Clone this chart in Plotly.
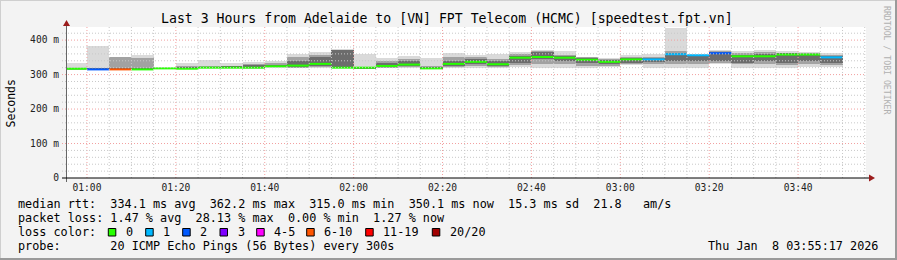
import plotly.graph_objects as go
from datetime import datetime, timedelta

# ---------------- data ----------------
DAY = "2026-01-08"
interval_start = ["00:55", "01:00", "01:05", "01:10", "01:15", "01:20", "01:25", "01:30",
                  "01:35", "01:40", "01:45", "01:50", "01:55", "02:00", "02:05", "02:10",
                  "02:15", "02:20", "02:25", "02:30", "02:35", "02:40", "02:45", "02:50",
                  "02:55", "03:00", "03:05", "03:10", "03:15", "03:20", "03:25", "03:30",
                  "03:35", "03:40", "03:45"]
STEP_S = 300  # probe interval (s)

median_ms = [317, 315, 315, 315, 318, 317, 320, 320, 320, 324, 326, 331, 320, 320, 325, 329,
             318, 331, 337, 330, 349, 351, 349, 343, 337, 344, 344, 359, 356, 362, 353, 353,
             358, 358, 350]
lost_pings = [0, 2, 6, 0, 0, 0, 0, 0, 0, 0, 0, 0, 0, 0, 0, 0,
              0, 0, 0, 0, 0, 0, 0, 0, 0, 0, 1, 1, 1, 2, 0, 0,
              0, 0, 1]
# smoke (ping distribution) per interval, ms
smoke_max = [335, 383, 352, 358, 318, 335, 343, 333, 337, 340, 360, 366, 373, 359, 347, 354,
             347, 364, 356, 359, 366, 371, 369, 352, 349, 356, 359, 436, 361, 371, 368, 371,
             368, 366, 362]
smoke_hi = [318, 320, 352, 348, 318, 325, 325, 325, 332, 333, 350, 358, 371, 322, 338, 345,
            325, 352, 350, 345, 360, 368, 358, 350, 345, 350, 352, 368, 358, 368, 362, 365,
            364, 363, 358]
smoke_q3 = [317, 317, 317, 318, 318, 320, 321, 322, 328, 328, 338, 350, 371, 321, 333, 340,
            320, 340, 345, 338, 355, 365, 354, 347, 341, 347, 348, 364, 357, 366, 358, 360,
            362, 361, 354]
smoke_q1 = [317, 315, 315, 315, 318, 317, 320, 320, 319, 322, 322, 324, 320, 319, 322, 324,
            317, 326, 330, 325, 335, 345, 340, 333, 330, 335, 336, 340, 338, 340, 335, 338,
            335, 340, 335]
smoke_lo = [316, 315, 315, 315, 317, 317, 319, 319, 318, 321, 320, 321, 319, 319, 320, 321,
            316, 322, 325, 322, 328, 330, 330, 325, 325, 330, 330, 332, 332, 335, 330, 330,
            328, 330, 328]
smoke_min = [316, 315, 315, 314, 317, 316, 319, 319, 317, 320, 318, 319, 319, 318, 318, 318,
             315, 319, 320, 319, 322, 320, 320, 320, 321, 328, 318, 318, 318, 331, 318, 318,
             320, 323, 322]

loss_labels = ["0", "1", "2", "3", "4-5", "6-10", "11-19", "20/20"]
loss_colors = ["#26ff00", "#00b8ff", "#0059ff", "#7e00ff", "#ff00ff", "#ff5500", "#ff0000", "#a10000"]

stats_line1 = "median rtt:  334.1 ms avg  362.2 ms max  315.0 ms min  350.1 ms now  15.3 ms sd  21.8   am/s"
stats_line2 = "packet loss: 1.47 % avg  28.13 % max  0.00 % min  1.27 % now"
probe_line = "probe:       20 ICMP Echo Pings (56 Bytes) every 300s"
stamp = "Thu Jan  8 03:55:17 2026"
title = "Last 3 Hours from Adelaide to [VN] FPT Telecom (HCMC) [speedtest.fpt.vn]"

# ---------------- geometry ----------------
W, H = 897, 260
PL, PR, PT, PB = 66, 866, 27, 178
MONO = "DejaVu Sans Mono"


def px(x):
    return (x - PL) / (PR - PL)


def py(y):
    return (PB - y) / (PB - PT)


def nb(s):
    return s.replace(" ", "\u00a0")


def bucket(n):
    if n <= 3:
        return n
    if n <= 5:
        return 4
    if n <= 10:
        return 5
    if n <= 19:
        return 6
    return 7


starts = [datetime.fromisoformat(f"{DAY} {t}:00") for t in interval_start]
step = timedelta(seconds=STEP_S)
centers = [s + step / 2 for s in starts]

fig = go.Figure()

bands = [(smoke_min, smoke_max, "#dadada"), (smoke_lo, smoke_hi, "#a2a2a2"), (smoke_q1, smoke_q3, "#6c6c6c")]
for lo, hi, col in bands:
    fig.add_trace(go.Bar(x=centers, y=[h - l for l, h in zip(lo, hi)], base=lo,
                         width=STEP_S * 1000, marker=dict(color=col, line=dict(width=0)),
                         hoverinfo="skip", showlegend=False))

for b, col in enumerate(loss_colors):
    xs, ys = [], []
    for s, m, n in zip(starts, median_ms, lost_pings):
        if bucket(n) == b:
            xs += [s, s + step, None]
            ys += [m, m, None]
    if xs:
        fig.add_trace(go.Scatter(x=xs, y=ys, mode="lines", line=dict(color=col, width=2),
                                 hoverinfo="skip", showlegend=False))

x0 = datetime.fromisoformat(f"{DAY} 00:55:17")
x1 = datetime.fromisoformat(f"{DAY} 03:55:17")
YMAX = 438

shapes = []
# grid (rrdtool draws it over the graph)
t = datetime.fromisoformat(f"{DAY} 01:00:00")
while t <= x1:
    major = t.minute % 20 == 0
    shapes.append(dict(type="line", xref="x", yref="paper", x0=t, x1=t, y0=0, y1=1, layer="above",
                       line=dict(color="#f2a0a0" if major else "#c8c8c8", width=1, dash="1px,2px")))
    t += timedelta(minutes=5)
for v in range(20, YMAX, 20):
    major = v % 100 == 0
    shapes.append(dict(type="line", xref="paper", yref="y", x0=px(62), x1=1, y0=v, y1=v, layer="above",
                       line=dict(color="#f2a0a0" if major else "#c8c8c8", width=1, dash="1px,2px")))
# axes with arrows
shapes.append(dict(type="line", xref="paper", yref="paper", x0=px(66.5), x1=px(66.5), y0=py(182), y1=py(25),
                   layer="above", line=dict(color="#666666", width=1)))
shapes.append(dict(type="line", xref="paper", yref="paper", x0=px(62), x1=px(870), y0=py(178), y1=py(178),
                   layer="above", line=dict(color="#000000", width=1)))
shapes.append(dict(type="path", xref="paper", yref="paper", layer="above",
                   path=f"M {px(66.5)} {py(20)} L {px(63)} {py(26)} L {px(70)} {py(26)} Z",
                   fillcolor="#9b1c1c", line=dict(width=0)))
shapes.append(dict(type="path", xref="paper", yref="paper", layer="above",
                   path=f"M {px(875)} {py(178)} L {px(869)} {py(174.5)} L {px(869)} {py(181.5)} Z",
                   fillcolor="#9b1c1c", line=dict(width=0)))
# page border
shapes.append(dict(type="line", xref="paper", yref="paper", x0=px(0), x1=px(W), y0=py(0.5), y1=py(0.5),
                   line=dict(color="#cfcfcf", width=1)))
shapes.append(dict(type="line", xref="paper", yref="paper", x0=px(0.5), x1=px(0.5), y0=py(0), y1=py(H),
                   line=dict(color="#cfcfcf", width=1)))
shapes.append(dict(type="line", xref="paper", yref="paper", x0=px(0), x1=px(W), y0=py(H - 1), y1=py(H - 1),
                   line=dict(color="#9a9a9a", width=2)))
shapes.append(dict(type="line", xref="paper", yref="paper", x0=px(W - 1), x1=px(W - 1), y0=py(0), y1=py(H),
                   line=dict(color="#9a9a9a", width=2)))

ann = []


def text(x, y, s, size=11.8, xanchor="left", color="#000000", angle=0):
    ann.append(dict(x=px(x), y=py(y), xref="paper", yref="paper", text=nb(s), showarrow=False,
                    xanchor=xanchor, yanchor="middle", textangle=angle,
                    font=dict(family=MONO, size=size, color=color)))


text(446.5, 19, title, size=13.2, xanchor="center")
text(10, 103.5, "Seconds", size=11.5, xanchor="center", angle=-90)
text(887, 60, "RRDTOOL / TOBI OETIKER", size=8.2, xanchor="center", color="#b0b0b0", angle=90)
text(16, 204.3, stats_line1)
text(16, 218.3, stats_line2)
text(16, 232.3, "loss color:")
text(16, 246.3, probe_line)
text(880, 246.3, stamp, xanchor="right")

box_x = [108.3, 145.7, 182.7, 220, 256.7, 306.7, 365.7, 432.3]
for bx, lab, col in zip(box_x, loss_labels, loss_colors):
    shapes.append(dict(type="rect", xref="paper", yref="paper", x0=px(bx), x1=px(bx + 7.5),
                       y0=py(236), y1=py(228.5), fillcolor=col, line=dict(color="#000000", width=1)))
    text(bx + 15.5, 232.3, lab)

fig.update_layout(
    width=W, height=H, margin=dict(l=PL, r=W - PR, t=PT, b=H - PB, pad=0),
    paper_bgcolor="#f3f3f3", plot_bgcolor="#ffffff",
    barmode="overlay", bargap=0, showlegend=False,
    shapes=shapes, annotations=ann,
    xaxis=dict(type="date", range=[x0, x1], showgrid=False, zeroline=False, showline=False,
               tick0=f"{DAY} 01:00:00", dtick=20 * 60 * 1000, tickformat="%H:%M",
               ticks="", tickfont=dict(family=MONO, size=9.6, color="#222222"), ticklabelstandoff=2),
    yaxis=dict(range=[0, YMAX], showgrid=False, zeroline=False, showline=False,
               tickvals=[0, 100, 200, 300, 400], ticktext=[nb(s) for s in ["0", "100 m", "200 m", "300 m", "400 m"]],
               ticks="", tickfont=dict(family=MONO, size=9.6, color="#222222"), ticklabelstandoff=6),
)

fig.write_html("out.html")
